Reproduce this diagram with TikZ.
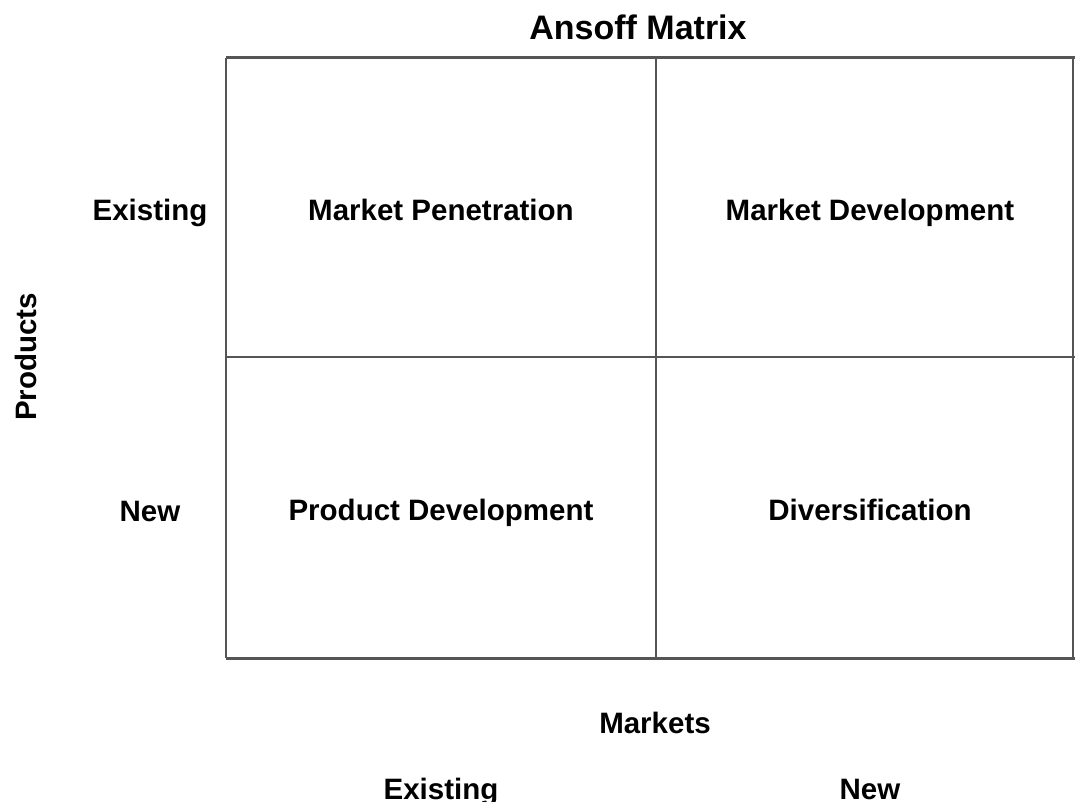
\documentclass[tikz,border=0pt]{standalone}
\usepackage{fontspec}
\setmainfont{Liberation Sans}
\definecolor{gridgray}{RGB}{85,85,85}
\begin{document}
\begin{tikzpicture}[x=1pt,y=-1pt,
  lbl/.style={font=\bfseries\fontsize{29.5}{32}\selectfont, anchor=base, inner sep=0pt},
  ttl/.style={font=\bfseries\fontsize{34}{38}\selectfont, anchor=base, inner sep=0pt},
  gridline/.style={draw=gridgray, line width=2.2pt}]
\useasboundingbox (0,0) rectangle (1075,802);
% grid corners
\coordinate (tl) at (226,58);
\coordinate (tm) at (656,58);
\coordinate (tr) at (1075,58);
\coordinate (ml) at (226,357);
\coordinate (mr) at (1075,357);
\coordinate (bl) at (226,658);
\coordinate (bm) at (656,658);
\coordinate (br) at (1075,658);
\coordinate (rt) at (1073,58);
\coordinate (rb) at (1073,658);
\draw[gridline, line width=3pt] (tl) -- (tr);
\draw[gridline, line width=3pt] (bl) -- (br);
\draw[gridline] (tl) -- (bl);
\draw[gridline] (tm) -- (bm);
\draw[gridline] (ml) -- (mr);
\draw[gridline, line width=1.5pt] (rt) -- (rb);
% texts
\node[ttl] (title) at (638,40) {Ansoff Matrix};
\node[lbl] (mp) at (441,221) {Market Penetration};
\node[lbl] (md) at (870,221) {Market Development};
\node[lbl] (pd) at (441,520) {Product Development};
\node[lbl] (dv) at (870,520) {Diversification};
\node[lbl] (pe) at (150,221) {Existing};
\node[lbl] (pn) at (150,521) {New};
\node[lbl, rotate=90] (prod) at (36,357) {Products};
\node[lbl] (mk) at (655,733) {Markets};
\node[lbl] (me) at (441,799) {Existing};
\node[lbl] (mn) at (870,799) {New};
\end{tikzpicture}
\end{document}
